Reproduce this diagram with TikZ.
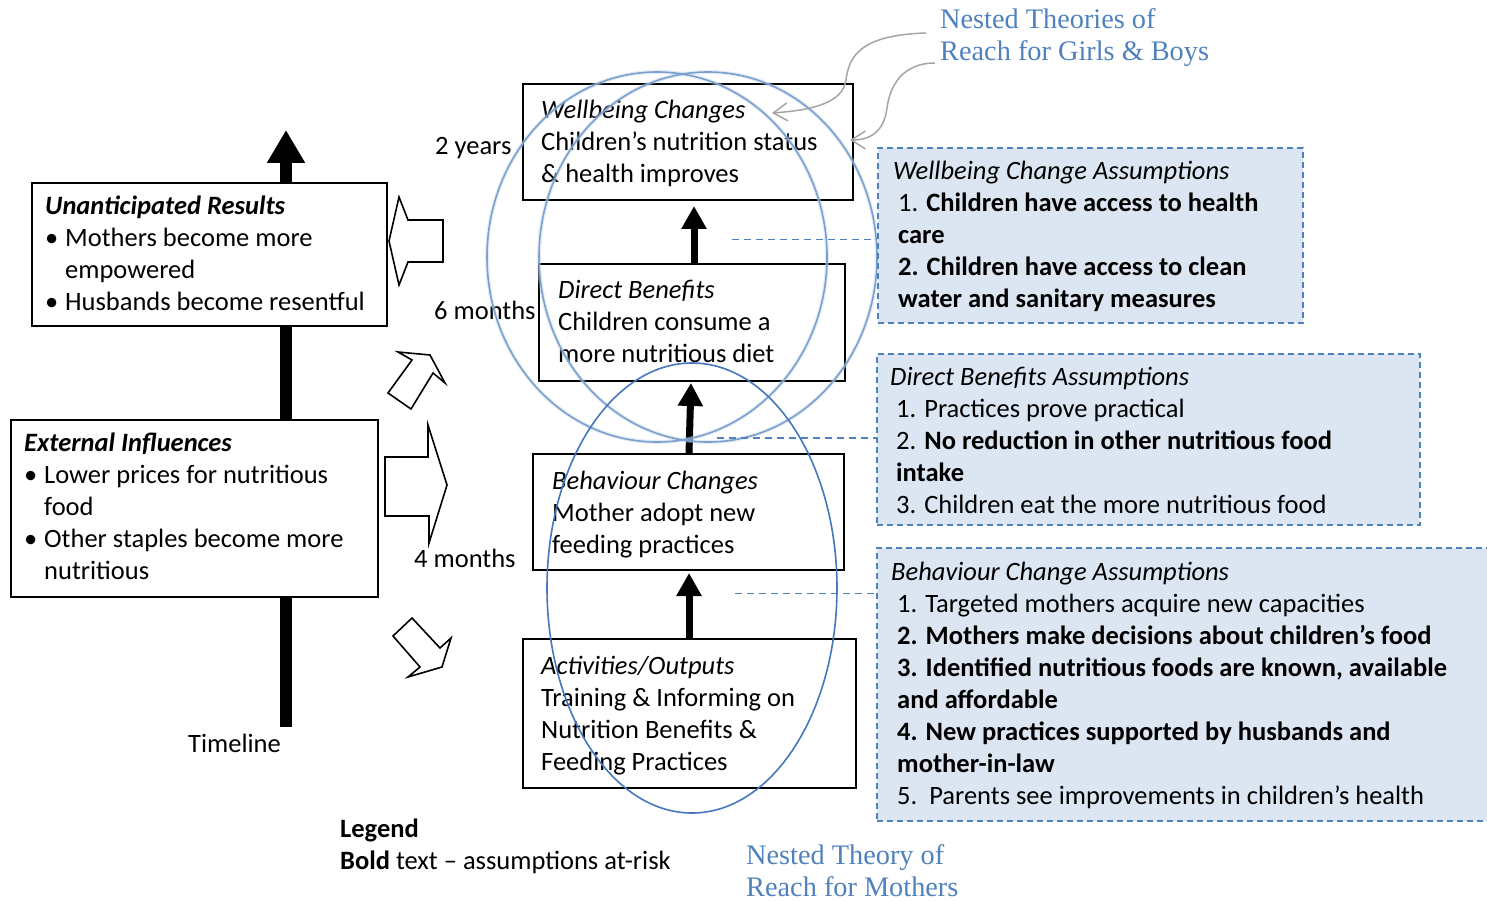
\documentclass[tikz,border=0pt]{standalone}
\usepackage{fontspec}
\setmainfont{Carlito}
\newfontfamily\titleserif{Liberation Serif}
\usetikzlibrary{arrows.meta,calc}

\definecolor{accentblue}{RGB}{79,129,189}
\definecolor{ringblue}{RGB}{122,160,206}
\definecolor{ringhalo}{RGB}{190,208,232}
\definecolor{motherblue}{RGB}{70,118,190}
\definecolor{assumfill}{RGB}{220,230,242}
\definecolor{calloutgray}{RGB}{165,165,165}

\begin{document}
\begin{tikzpicture}[x=1pt,y=-1pt,
  txt/.style={font=\fontsize{26.5}{32}\selectfont, inner sep=0pt, align=left, anchor=north west},
  serifnote/.style={font=\titleserif\fontsize{28.3}{32}\selectfont, text=accentblue, inner sep=0pt, align=left, anchor=north west},
  box/.style={draw=black, line width=2pt, fill=white, inner sep=0pt, anchor=north west},
  assumbox/.style={draw=accentblue, line width=1.6pt, dash pattern=on 6pt off 4pt, fill=assumfill, inner sep=0pt, anchor=north west},
  assumlink/.style={draw=accentblue, line width=1.8pt, dash pattern=on 7pt off 5pt},
  flowarrow/.style={line width=7pt, -{Triangle[length=23pt,width=24pt]}},
  timeline/.style={line width=12pt, -{Triangle[length=33pt,width=36pt]}},
  blockarrow/.style={draw=black, line width=1.6pt, fill=white, line join=miter},
  ringhalo/.style={draw=ringhalo, line width=4pt, opacity=0.4},
  ring/.style={draw=ringblue, line width=1.6pt},
  motherring/.style={draw=motherblue, line width=1.6pt},
  callout/.style={draw=calloutgray, line width=1.5pt, -{Straight Barb[length=14pt,width=18pt]}}
]
\useasboundingbox (0,0) rectangle (1487,901);

% timeline running behind the side boxes
\coordinate (tlbot) at (286,727);
\coordinate (tltop) at (286,130);
\draw[timeline] (tlbot) -- (tltop);
\node[txt] (tllabel) at (188,729.6) {\strut Timeline};

% side boxes
\node[box, minimum width=355pt, minimum height=143pt] (ur) at (31,182) {};
\node[txt] (urtext) at (45,191.6) {\strut\textbf{\textit{Unanticipated Results}}\\
  \makebox[20pt][l]{\textbullet}Mothers become more\\
  \hspace*{20pt}empowered\\
  \makebox[20pt][l]{\textbullet}Husbands become resentful};

\node[box, minimum width=367pt, minimum height=177pt] (ei) at (10,419) {};
\node[txt] (eitext) at (24,428.6) {\strut\textbf{\textit{External Influences}}\\
  \makebox[20pt][l]{\textbullet}Lower prices for nutritious\\
  \hspace*{20pt}food\\
  \makebox[20pt][l]{\textbullet}Other staples become more\\
  \hspace*{20pt}nutritious};

% hollow block arrows between the side boxes and the chain
\draw[blockarrow] (443,220) -- (408,220) -- (399,197) -- (389,241) -- (399,285) -- (408,262) -- (443,262) -- cycle;
\draw[blockarrow] (388,393) -- (412,360) -- (398,352) -- (430,355) -- (445,383) -- (433,373) -- (411,409) -- cycle;
\draw[blockarrow] (385,457) -- (428,457) -- (428,425) -- (447,485) -- (429,543) -- (429,516) -- (385,516) -- cycle;
\draw[blockarrow] (393,636) -- (412,618) -- (440,648) -- (451,638) -- (442,667) -- (408,677) -- (420,667) -- cycle;

% time labels
\node[txt] (t2y) at (435,131.6) {\strut 2 years};
\node[txt] (t6m) at (434,296.6) {\strut 6 months};
\node[txt] (t4m) at (414,544.6) {\strut 4 months};

% results chain
\node[box, minimum width=330pt, minimum height=116pt] (wc) at (522,83) {};
\node[txt] (wctext) at (541,95.6) {\strut\textit{Wellbeing Changes}\\Children’s nutrition status\\\& health improves};

\node[box, minimum width=306pt, minimum height=117pt] (db) at (538,263) {};
\node[txt] (dbtext) at (558,275.6) {\strut\textit{Direct Benefits}\\Children consume a\\more nutritious diet};

\node[box, minimum width=311pt, minimum height=116pt] (bc) at (532,453) {};
\node[txt] (bctext) at (552,466.6) {\strut\textit{Behaviour Changes}\\Mother adopt new\\feeding practices};

\node[box, minimum width=333pt, minimum height=149pt] (ao) at (522,638) {};
\node[txt] (aotext) at (541,651.6) {\strut\textit{Activities/Outputs}\\Training \& Informing on\\Nutrition Benefits \&\\Feeding Practices};

\draw[flowarrow] ([xshift=2pt]db.north) -- ([xshift=6pt,yshift=-5pt]wc.south);
\draw[flowarrow] ([xshift=0.5pt]bc.north) -- ([xshift=-1pt,yshift=-1pt]db.south);
\draw[flowarrow] ([xshift=-0.5pt]ao.north) -- ([xshift=0.5pt,yshift=-2pt]bc.south);

% nested theories of reach
\draw[ringhalo] (657,257) ellipse [x radius=170, y radius=185];
\draw[ringhalo] (708,257) ellipse [x radius=169, y radius=185];
\draw[ring] (657,257) ellipse [x radius=170, y radius=185];
\draw[ring] (708,257) ellipse [x radius=169, y radius=185];
\draw[motherring] (692,588) ellipse [x radius=145, y radius=225];

% links to the assumption boxes
\coordinate (wclink) at (732,239.5);
\coordinate (dblink) at (717,438);
\coordinate (bclink) at (735,593.5);

\node[assumbox, minimum width=425pt, minimum height=175pt] (wca) at (877,147) {};
\node[txt] (wcatext) at (893,156.6) {\strut\textit{Wellbeing Change Assumptions}\\
  \hspace*{5pt}1. \textbf{Children have access to health}\\
  \hspace*{5pt}\textbf{care}\\
  \hspace*{5pt}\textbf{2. Children have access to clean}\\
  \hspace*{5pt}\textbf{water and sanitary measures}};

\node[assumbox, minimum width=543pt, minimum height=171pt] (dba) at (876,353) {};
\node[txt] (dbatext) at (890,362.6) {\strut\textit{Direct Benefits Assumptions}\\
  \hspace*{6pt}1. Practices prove practical\\
  \hspace*{6pt}2. \textbf{No reduction in other nutritious food}\\
  \hspace*{6pt}\textbf{intake}\\
  \hspace*{6pt}3. Children eat the more nutritious food};

\node[assumbox, minimum width=616pt, minimum height=273pt] (bca) at (876,547) {};
\node[txt] (bcatext) at (891,557.6) {\strut\textit{Behaviour Change Assumptions}\\
  \hspace*{6pt}1. Targeted mothers acquire new capacities\\
  \hspace*{6pt}\textbf{2. Mothers make decisions about children’s food}\\
  \hspace*{6pt}\textbf{3. Identified nutritious foods are known, available}\\
  \hspace*{6pt}\textbf{and affordable}\\
  \hspace*{6pt}\textbf{4. New practices supported by husbands and}\\
  \hspace*{6pt}\textbf{mother-in-law}\\
  \hspace*{6pt}5.\ \ Parents see improvements in children’s health};

\draw[assumlink] (wclink) -- (wclink -| wca.west);
\draw[assumlink] (dblink) -- (dblink -| dba.west);
\draw[assumlink] (bclink) -- (bclink -| bca.west);

% reach labels and their callouts
\node[serifnote] (reachkids) at (940,5.6) {\strut Nested Theories of\\Reach for Girls \& Boys};
\node[serifnote] (reachmothers) at (746,841.6) {\strut Nested Theory of\\Reach for Mothers};
\coordinate (calloutA) at (926,33);
\coordinate (calloutB) at (935,63);
\draw[callout] (calloutA) .. controls (862,35) and (849,55) .. (846,80) .. controls (843,102) and (815,110) .. (772,113);
\draw[callout] (calloutB) .. controls (903,63) and (890,85) .. (887,108) .. controls (884,132) and (870,140) .. (850,140);

% legend
\node[txt] (legend) at (340,814.6) {\strut\textbf{Legend}\\\textbf{Bold} text – assumptions at-risk};
\end{tikzpicture}
\end{document}
